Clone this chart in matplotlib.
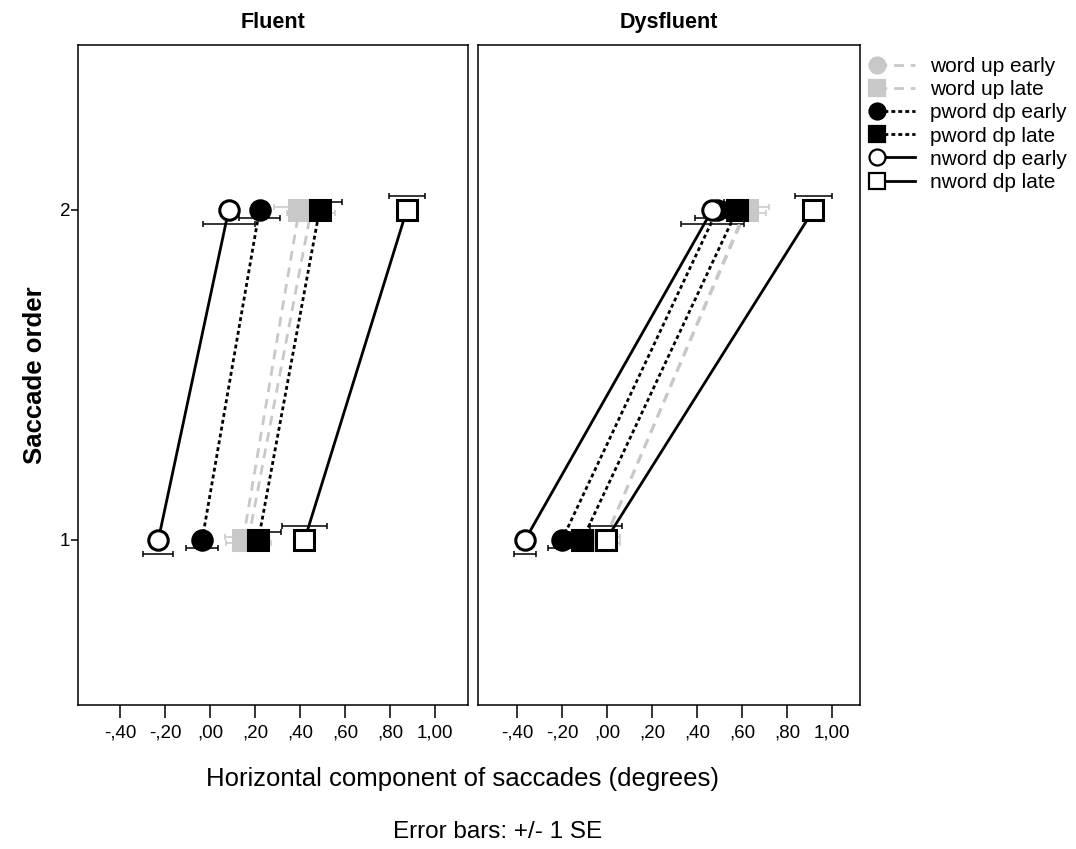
import matplotlib
matplotlib.use("Agg")
import matplotlib.pyplot as plt
from matplotlib.lines import Line2D
from matplotlib.legend_handler import HandlerLine2D

plt.rcParams['font.family'] = ['Liberation Sans', 'DejaVu Sans']

# data
saccade_order = [1, 2]
series_labels = ["word up early", "word up late", "pword dp early",
                 "pword dp late", "nword dp early", "nword dp late"]
panel_titles = ["Fluent", "Dysfluent"]

# mean horizontal component per series, [order 1, order 2]
fluent_mean = [[0.17, 0.45], [0.147, 0.396], [-0.035, 0.22],
               [0.215, 0.487], [-0.23, 0.083], [0.42, 0.875]]
fluent_se = [[0.10, 0.106], [0.08, 0.11], [0.07, 0.09],
             [0.10, 0.10], [0.067, 0.115], [0.10, 0.08]]
dysfluent_mean = [[-0.01, 0.615], [-0.01, 0.62], [-0.20, 0.49],
                  [-0.11, 0.578], [-0.364, 0.467], [-0.005, 0.917]]
dysfluent_se = [[0.07, 0.09], [0.07, 0.10], [0.06, 0.10],
                [0.07, 0.06], [0.05, 0.14], [0.07, 0.082]]

xticks = [-0.4, -0.2, 0.0, 0.2, 0.4, 0.6, 0.8, 1.0]
xtick_labels = ["-,40", "-,20", ",00", ",20", ",40", ",60", ",80", "1,00"]

# styles
GREY = "#c8c8c8"
styles = [
    dict(color=GREY, ls=(0, (3.5, 2.5)), marker="o", mfc=GREY, mec=GREY),
    dict(color=GREY, ls=(0, (3.5, 2.5)), marker="s", mfc=GREY, mec=GREY),
    dict(color="black", ls=(0, (1.4, 1.1)), marker="o", mfc="black", mec="black"),
    dict(color="black", ls=(0, (1.4, 1.1)), marker="s", mfc="black", mec="black"),
    dict(color="black", ls="-", marker="o", mfc="white", mec="black"),
    dict(color="black", ls="-", marker="s", mfc="white", mec="black"),
]
# SPSS dodges the error bars vertically a little
bar_offsets = [-0.0085, 0.0085, -0.025, 0.025, -0.042, 0.042]


class LeftMarker(HandlerLine2D):
    # marker only at the left end of the legend line
    def create_artists(self, legend, orig_handle, xdescent, ydescent,
                       width, height, fontsize, trans):
        arts = super().create_artists(legend, orig_handle, xdescent, ydescent,
                                      width, height, fontsize, trans)
        for a in arts:
            a.set_markevery([0])
        return arts


fig = plt.figure(figsize=(10.76, 8.49), dpi=100)
W, H = 1076, 849
ax1 = fig.add_axes([78 / W, 1 - 705 / H, 390 / W, 660 / H])
ax2 = fig.add_axes([478 / W, 1 - 705 / H, 382 / W, 660 / H])

panels = [(ax1, fluent_mean, fluent_se, (-0.587, 1.147)),
          (ax2, dysfluent_mean, dysfluent_se, (-0.573, 1.124))]

for i, (ax, means, ses, xlim) in enumerate(panels):
    handles = []
    for k in range(len(series_labels)):
        st = styles[k]
        ybar = [y + bar_offsets[k] for y in saccade_order]
        ax.errorbar(means[k], ybar, xerr=ses[k], fmt="none",
                    ecolor=st["color"], elinewidth=1.1, capsize=2.3,
                    capthick=1.1, zorder=1)
        ax.plot(means[k], saccade_order, color=st["color"], ls=st["ls"],
                lw=2.0, zorder=2)
        ax.plot(means[k], saccade_order, ls="none", marker=st["marker"],
                ms=14, mfc=st["mfc"], mec=st["mec"], mew=2.2, zorder=3 + k * 0.01)
        handles.append(Line2D([0, 1], [0, 0], color=st["color"], ls=st["ls"], lw=2.0,
                              marker=st["marker"], ms=11.5, mfc=st["mfc"],
                              mec=st["mec"], mew=1.6))
    ax.set_xlim(*xlim)
    ax.set_ylim(0.5, 2.5)
    ax.set_xticks(xticks)
    ax.set_xticklabels(xtick_labels, fontsize=13.5)
    ax.tick_params(axis="x", direction="out", length=9, width=1.1, pad=5)
    ax.set_title(panel_titles[i], fontsize=15.5, fontweight="bold", pad=12)
    for sp in ax.spines.values():
        sp.set_linewidth(1.1)
    if i == 0:
        ax.set_yticks(saccade_order)
        ax.set_yticklabels([str(v) for v in saccade_order], fontsize=13.5)
        ax.tick_params(axis="y", direction="out", length=5, width=1.1, pad=0.5)
        ax.set_ylabel("Saccade order", fontsize=18.5, fontweight="bold", labelpad=9)
    else:
        ax.set_yticks([])

fig.legend(handles, series_labels, loc="upper left",
           bbox_to_anchor=(871 / W, 1 - 57 / H), frameon=False,
           fontsize=15, handlelength=2.4, handletextpad=0.45,
           labelspacing=0.2, borderaxespad=0, borderpad=0, numpoints=2,
           handler_map={Line2D: LeftMarker()})

fig.text(463 / W, 1 - 779 / H, "Horizontal component of saccades (degrees)",
         ha="center", va="center", fontsize=18.5)
fig.text(498 / W, 1 - 832 / H, "Error bars: +/- 1 SE",
         ha="center", va="center", fontsize=17.5)

fig.savefig("out.png", dpi=100)
